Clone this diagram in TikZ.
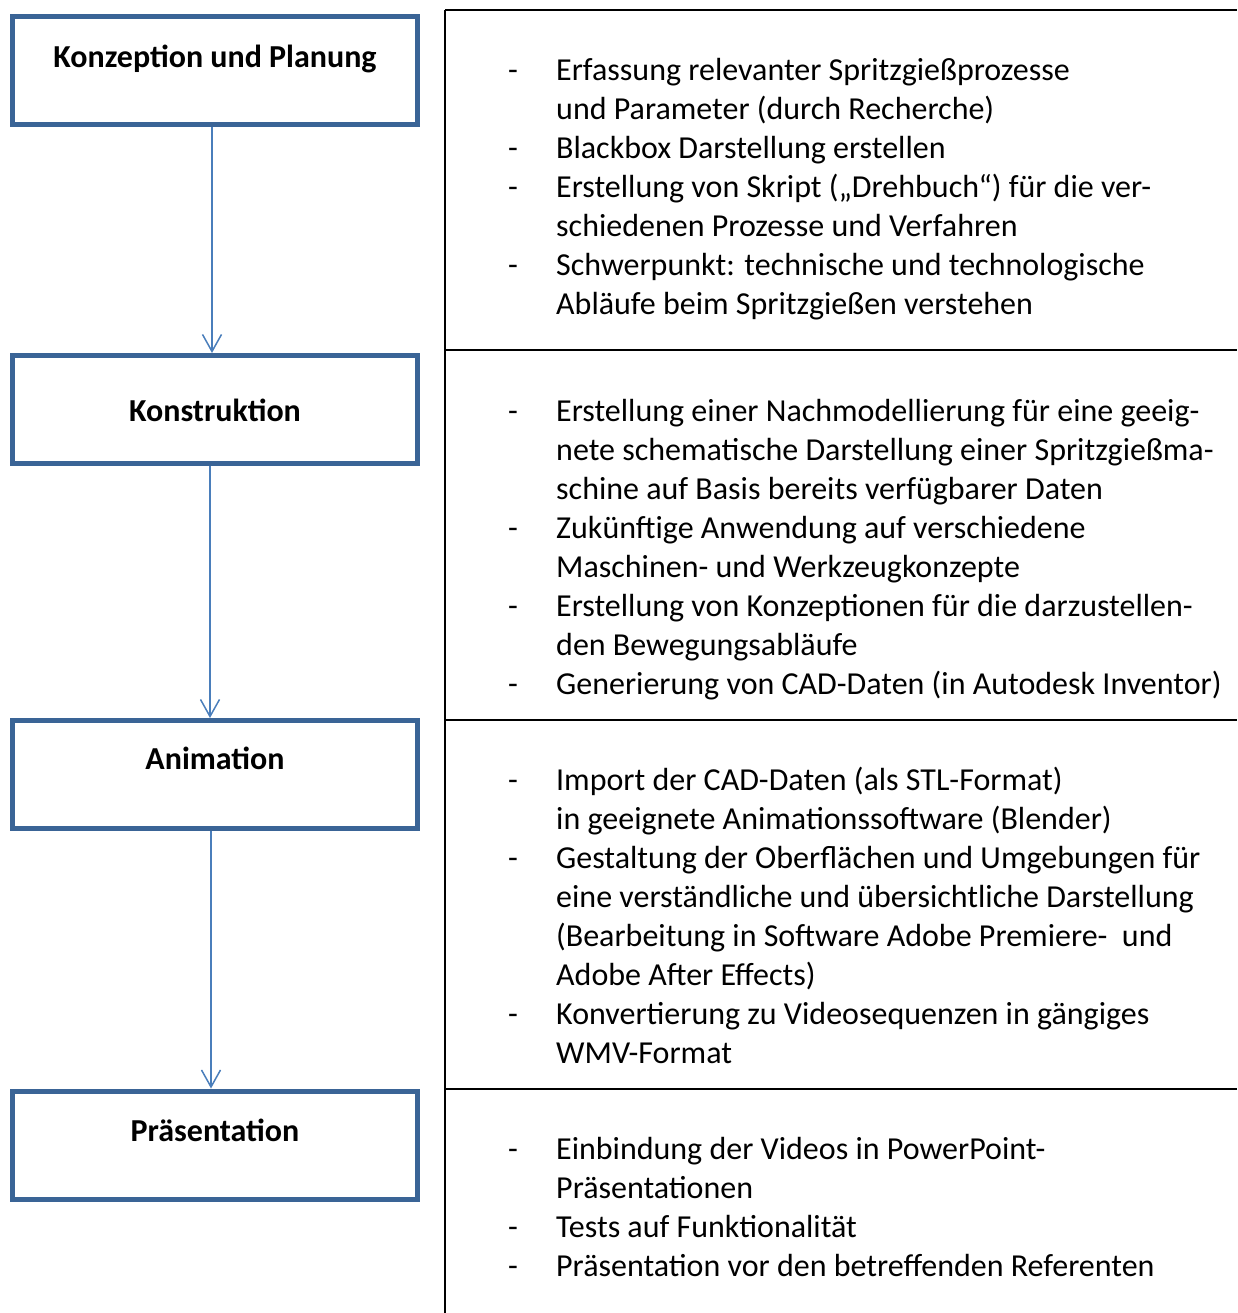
\documentclass[tikz,border=0pt]{standalone}
\usepackage{fontspec}
\setmainfont{Carlito}
\usetikzlibrary{arrows.meta}
\definecolor{boxblue}{HTML}{3A6496}
\definecolor{arrblue}{HTML}{4A7EBB}
\newcommand{\itm}{\makebox[48pt][l]{-}}
\begin{document}
\begin{tikzpicture}[x=1pt,y=-1pt,
  stage/.style={draw=boxblue,line width=5pt,rectangle,minimum width=405pt,minimum height=108pt,inner sep=0pt},
  title/.style={font=\fontsize{32}{39}\selectfont\bfseries,anchor=base,inner sep=0pt},
  body/.style={font=\fontsize{32}{39}\selectfont,anchor=north west,inner sep=0pt,align=left},
  flow/.style={draw=arrblue,line width=1.5pt,-{Straight Barb[length=17pt,width=19pt,line width=1.5pt]}},
  rule/.style={line width=2pt,black}]
\useasboundingbox (0,0) rectangle (1237,1313);
% stage boxes
\node[stage] (b1) at (215,71) {};
\node[stage] (b2) at (215,409.5) {};
\node[stage] (b3) at (215,774.5) {};
\node[stage] (b4) at (215,1145) {};
\node[title] (t1) at (215,68) {Konzeption und Planung};
\node[title] (t2) at (215,421.5) {Konstruktion};
\node[title] (t3) at (215,769.5) {Animation};
\node[title] (t4) at (215,1141.5) {Präsentation};
% arrows
\draw[flow] (b1.south -| 212,0) -- (b2.north -| 212,0);
\draw[flow] (b2.south -| 210,0) -- (b3.north -| 210,0);
\draw[flow] (b3.south -| 211,0) -- (b4.north -| 211,0);
% table
\coordinate (tl) at (445,10);
\coordinate (tr) at (1237,10);
\coordinate (bl) at (445,1313);
\coordinate (r1l) at (445,350);  \coordinate (r1r) at (1237,350);
\coordinate (r2l) at (445,720);  \coordinate (r2r) at (1237,720);
\coordinate (r3l) at (445,1089); \coordinate (r3r) at (1237,1089);
\draw[rule] (tl) -- (tr);
\draw[rule] (tl) -- (bl);
\draw[rule] (r1l) -- (r1r);
\draw[rule] (r2l) -- (r2r);
\draw[rule] (r3l) -- (r3r);
% text blocks
\node[body] (x1) at (508,52.7) {\begin{tabular}{@{}l@{}l@{}}
\itm & Erfassung relevanter Spritzgießprozesse\\
 & und Parameter (durch Recherche)\\
\itm & Blackbox Darstellung erstellen\\
\itm & Erstellung von Skript („Drehbuch“) für die ver-\\
 & schiedenen Prozesse und Verfahren\\
\itm & Schwerpunkt: technische und technologische\\
 & Abläufe beim Spritzgießen verstehen
\end{tabular}};
\node[body] (x2) at (508,393.7) {\begin{tabular}{@{}l@{}l@{}}
\itm & Erstellung einer Nachmodellierung für eine geeig-\\
 & nete schematische Darstellung einer Spritzgießma-\\
 & schine auf Basis bereits verfügbarer Daten\\
\itm & Zukünftige Anwendung auf verschiedene\\
 & Maschinen- und Werkzeugkonzepte\\
\itm & Erstellung von Konzeptionen für die darzustellen-\\
 & den Bewegungsabläufe\\
\itm & Generierung von CAD-Daten (in Autodesk Inventor)
\end{tabular}};
\node[body] (x3) at (508,762.7) {\begin{tabular}{@{}l@{}l@{}}
\itm & Import der CAD-Daten (als STL-Format)\\
 & in geeignete Animationssoftware (Blender)\\
\itm & Gestaltung der Oberflächen und Umgebungen für\\
 & eine verständliche und übersichtliche Darstellung\\
 & (Bearbeitung in Software Adobe Premiere-\ \ und\\
 & Adobe After Effects)\\
\itm & Konvertierung zu Videosequenzen in gängiges\\
 & WMV-Format
\end{tabular}};
\node[body] (x4) at (508,1131.7) {\begin{tabular}{@{}l@{}l@{}}
\itm & Einbindung der Videos in PowerPoint-\\
 & Präsentationen\\
\itm & Tests auf Funktionalität\\
\itm & Präsentation vor den betreffenden Referenten
\end{tabular}};
\end{tikzpicture}
\end{document}
